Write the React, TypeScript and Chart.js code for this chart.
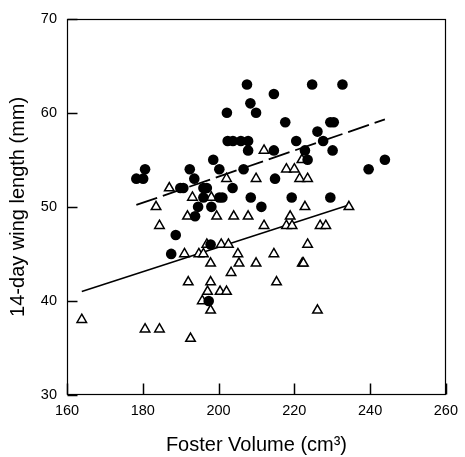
import { useEffect, useRef } from "react";
import { Chart, registerables } from "chart.js";

Chart.register(...registerables);

// Filled circles
const circleX = [
  207.5, 224.7, 232.7, 214.6, 208.4, 209.9, 202.2, 217.6, 229.5, 230.4,
  226.1, 202.4, 203.8, 205.9, 207.8, 220.5, 227.6, 207.8, 214.6, 222.8,
  230.1, 198.6, 223.5, 243.9, 180.6, 192.4, 200.2, 206.6, 239.6, 178.3,
  180.1, 193.6, 214.9, 189.9, 190.7, 196.0, 196.9, 203.7, 196.0, 200.2,
  201.0, 208.5, 219.3, 229.5, 194.6, 198.1, 211.3, 193.8, 188.7, 197.9,
  187.5, 197.4,
];
const circleY = [
  63, 63, 63, 62, 61, 60, 60, 59, 59, 59,
  58, 57, 57, 57, 57, 57, 57, 56, 56, 56,
  56, 55, 55, 55, 54, 54, 54, 54, 54, 53,
  53, 53, 53, 52, 52, 52, 52, 52, 51, 51,
  51, 51, 51, 51, 50, 50, 50, 49, 47, 46,
  45, 40,
];

// Open triangles
const triangleX = [
  212.0, 222.0, 217.9, 220.0, 202.1, 209.9, 221.4, 223.5, 187.0, 193.1,
  198.1, 183.5, 222.8, 234.4, 191.8, 199.5, 204.0, 207.8, 218.9, 184.4,
  212.0, 217.9, 219.4, 226.8, 228.3, 196.9, 200.7, 202.6, 223.5, 191.0,
  194.8, 196.0, 205.1, 214.6, 197.9, 205.4, 209.9, 222.1, 222.4, 203.3,
  192.0, 197.9, 215.3, 197.1, 200.4, 202.1, 195.7, 197.9, 226.1, 163.9,
  180.6, 184.4, 192.6,
];
const triangleY = [
  56, 55, 54, 54, 53, 53, 53, 53, 52, 51,
  51, 50, 50, 50, 49, 49, 49, 49, 49, 48,
  48, 48, 48, 48, 48, 46, 46, 46, 46, 45,
  45, 45, 45, 45, 44, 44, 44, 44, 44, 43,
  42, 42, 42, 41, 41, 41, 40, 39, 39, 38,
  37, 37, 36,
];

// Regression lines
const dashedFitX = [178.3, 243.9];
const dashedFitY = [50.2, 59.3];
const solidFitX = [163.9, 234.4];
const solidFitY = [41.0, 50.2];

// Axis ticks
const xTickValues = [160, 180, 200, 220, 240, 260];
const yTickValues = [30, 40, 50, 60, 70];

const FONT = "'Liberation Sans', Arial, Helvetica, sans-serif";

const toPoints = (xs: number[], ys: number[]) => xs.map((x, i) => ({ x, y: ys[i] }));

const framePlugin = {
  id: "frameTicks",
  afterDraw(chart: any) {
    const ctx = chart.ctx;
    const a = chart.chartArea;
    const xs = chart.scales["x"];
    const ys = chart.scales["y"];
    ctx.save();
    ctx.strokeStyle = "#000";
    ctx.lineWidth = 1.2;
    const l = Math.round(a.left) + 0.5;
    const r = Math.round(a.right) - 0.5;
    const t = Math.round(a.top) + 0.5;
    const b = Math.round(a.bottom) - 0.5;
    ctx.strokeRect(l, t, r - l, b - t);
    ctx.lineWidth = 1.5;
    for (const v of xTickValues) {
      const px = Math.round(xs.getPixelForValue(v)) + 0.5;
      ctx.beginPath();
      ctx.moveTo(px, b);
      ctx.lineTo(px, b - 11);
      ctx.stroke();
    }
    for (const v of yTickValues) {
      const py = Math.round(ys.getPixelForValue(v)) + 0.5;
      ctx.beginPath();
      ctx.moveTo(l, py);
      ctx.lineTo(l + 10, py);
      ctx.stroke();
    }
    ctx.restore();
  },
};

export default function App() {
  const ref = useRef<HTMLCanvasElement | null>(null);

  useEffect(() => {
    if (!ref.current) return;
    const chart = new Chart(ref.current, {
      type: "scatter",
      data: {
        datasets: [
          {
            label: "circles",
            data: toPoints(circleX, circleY),
            pointStyle: "circle",
            pointRadius: 5.3,
            backgroundColor: "#000",
            borderColor: "#000",
            borderWidth: 0,
            order: 1,
          },
          {
            label: "triangles",
            data: toPoints(triangleX, triangleY),
            pointStyle: "triangle",
            pointRadius: 5.5,
            backgroundColor: "#fff",
            borderColor: "#000",
            borderWidth: 1.5,
            order: 2,
          },
          {
            type: "line",
            label: "circle fit",
            data: toPoints(dashedFitX, dashedFitY),
            borderColor: "#000",
            borderWidth: 1.8,
            borderDash: [22, 6],
            pointRadius: 0,
            fill: false,
            showLine: true,
            order: 3,
          },
          {
            type: "line",
            label: "triangle fit",
            data: toPoints(solidFitX, solidFitY),
            borderColor: "#000",
            borderWidth: 1.5,
            pointRadius: 0,
            fill: false,
            showLine: true,
            order: 4,
          },
        ] as any,
      },
      options: {
        animation: false,
        responsive: false,
        events: [],
        layout: { padding: { top: 15, right: 14, left: 0, bottom: 0 } },
        plugins: {
          legend: { display: false },
          tooltip: { enabled: false },
        },
        scales: {
          x: {
            type: "linear",
            min: xTickValues[0],
            max: xTickValues[xTickValues.length - 1],
            grid: { display: false, drawTicks: false },
            border: { display: false },
            afterBuildTicks(scale: any) {
              scale.ticks = xTickValues.map((v) => ({ value: v }));
            },
            ticks: {
              padding: 7,
              color: "#000",
              font: { family: FONT, size: 14.5 },
            },
            title: {
              display: true,
              text: "Foster Volume (cm³)",
              color: "#000",
              font: { family: FONT, size: 20 },
              padding: { top: 0, bottom: 0 },
            },
            afterFit(scale: any) {
              scale.height = 62;
            },
          },
          y: {
            type: "linear",
            min: yTickValues[0],
            max: yTickValues[yTickValues.length - 1],
            grid: { display: false, drawTicks: false },
            border: { display: false },
            afterBuildTicks(scale: any) {
              scale.ticks = yTickValues.map((v) => ({ value: v }));
            },
            ticks: {
              padding: 10,
              color: "#000",
              font: { family: FONT, size: 14.5 },
            },
            title: {
              display: true,
              text: "14-day wing length (mm)",
              color: "#000",
              font: { family: FONT, size: 20 },
              padding: { top: 6, bottom: 0 },
            },
            afterFit(scale: any) {
              scale.width = 67;
            },
          },
        },
      },
      plugins: [framePlugin],
    });
    return () => chart.destroy();
  }, []);

  return (
    <div style={{ position: "fixed", left: 0, top: 0, width: 465, height: 457, background: "#fff" }}>
      <canvas ref={ref} width={465} height={457} style={{ display: "block" }} />
    </div>
  );
}
